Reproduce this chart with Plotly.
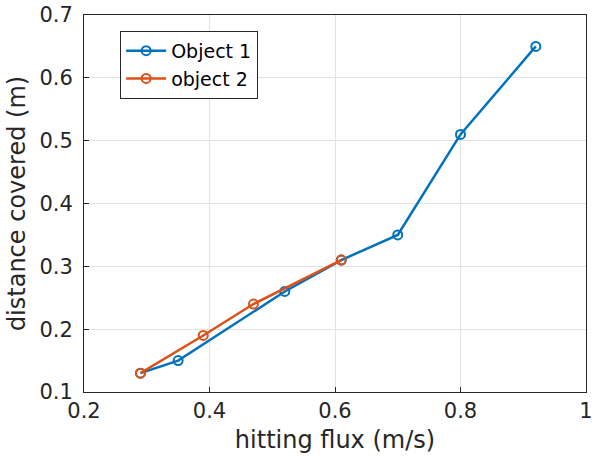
import plotly.graph_objects as go

x1 = [0.29, 0.35, 0.52, 0.61, 0.70, 0.80, 0.92]
y1 = [0.13, 0.15, 0.26, 0.31, 0.35, 0.51, 0.65]
x2 = [0.29, 0.39, 0.47, 0.61]
y2 = [0.13, 0.19, 0.24, 0.31]
xticks = [0.2, 0.4, 0.6, 0.8, 1.0]
xticklabels = ["0.2", "0.4", "0.6", "0.8", "1"]
yticks = [0.1, 0.2, 0.3, 0.4, 0.5, 0.6, 0.7]
yticklabels = ["0.1", "0.2", "0.3", "0.4", "0.5", "0.6", "0.7"]

fig = go.Figure()
fig.add_trace(go.Scatter(x=x1, y=y1, mode="lines+markers", name="Object 1",
                         line=dict(color="#0072BD", width=2.5),
                         marker=dict(symbol="circle-open", size=9, color="#0072BD", line=dict(width=2))))
fig.add_trace(go.Scatter(x=x2, y=y2, mode="lines+markers", name="object 2",
                         line=dict(color="#D95319", width=2.5),
                         marker=dict(symbol="circle-open", size=9, color="#D95319", line=dict(width=2))))

axis_common = dict(showgrid=True, gridcolor="#e3e3e3", gridwidth=1, zeroline=False,
                   showline=True, linecolor="#262626", linewidth=1, mirror=True,
                   ticks="inside", ticklen=5, tickcolor="#262626", automargin=False,
                   ticklabeloverflow="allow",
                   tickfont=dict(family="DejaVu Sans", size=21, color="#262626"))

fig.update_xaxes(range=[0.2, 1.0], tickvals=xticks, ticktext=xticklabels,
                 title=dict(text="hitting flux (m/s)", font=dict(family="DejaVu Sans", size=24, color="#262626"), standoff=8),
                 **axis_common)
fig.update_yaxes(range=[0.1, 0.7], tickvals=yticks, ticktext=yticklabels, ticklabelstandoff=6,
                 title=dict(text="distance covered (m)", font=dict(family="DejaVu Sans", size=24, color="#262626"), standoff=6),
                 **axis_common)

fig.update_layout(width=592, height=460, margin=dict(l=84, r=6, t=15, b=68),
                  paper_bgcolor="white", plot_bgcolor="white",
                  font=dict(family="DejaVu Sans", color="#262626"),
                  legend=dict(x=0.072, y=0.958, xanchor="left", yanchor="top",
                              bgcolor="white", bordercolor="#262626", borderwidth=1,
                              font=dict(family="DejaVu Sans", size=19, color="black"),
                              tracegroupgap=0, itemwidth=40))

fig.write_html("out.html", config={"displayModeBar": False},
               post_script="document.body.style.margin='0';document.body.style.overflow='hidden';")
